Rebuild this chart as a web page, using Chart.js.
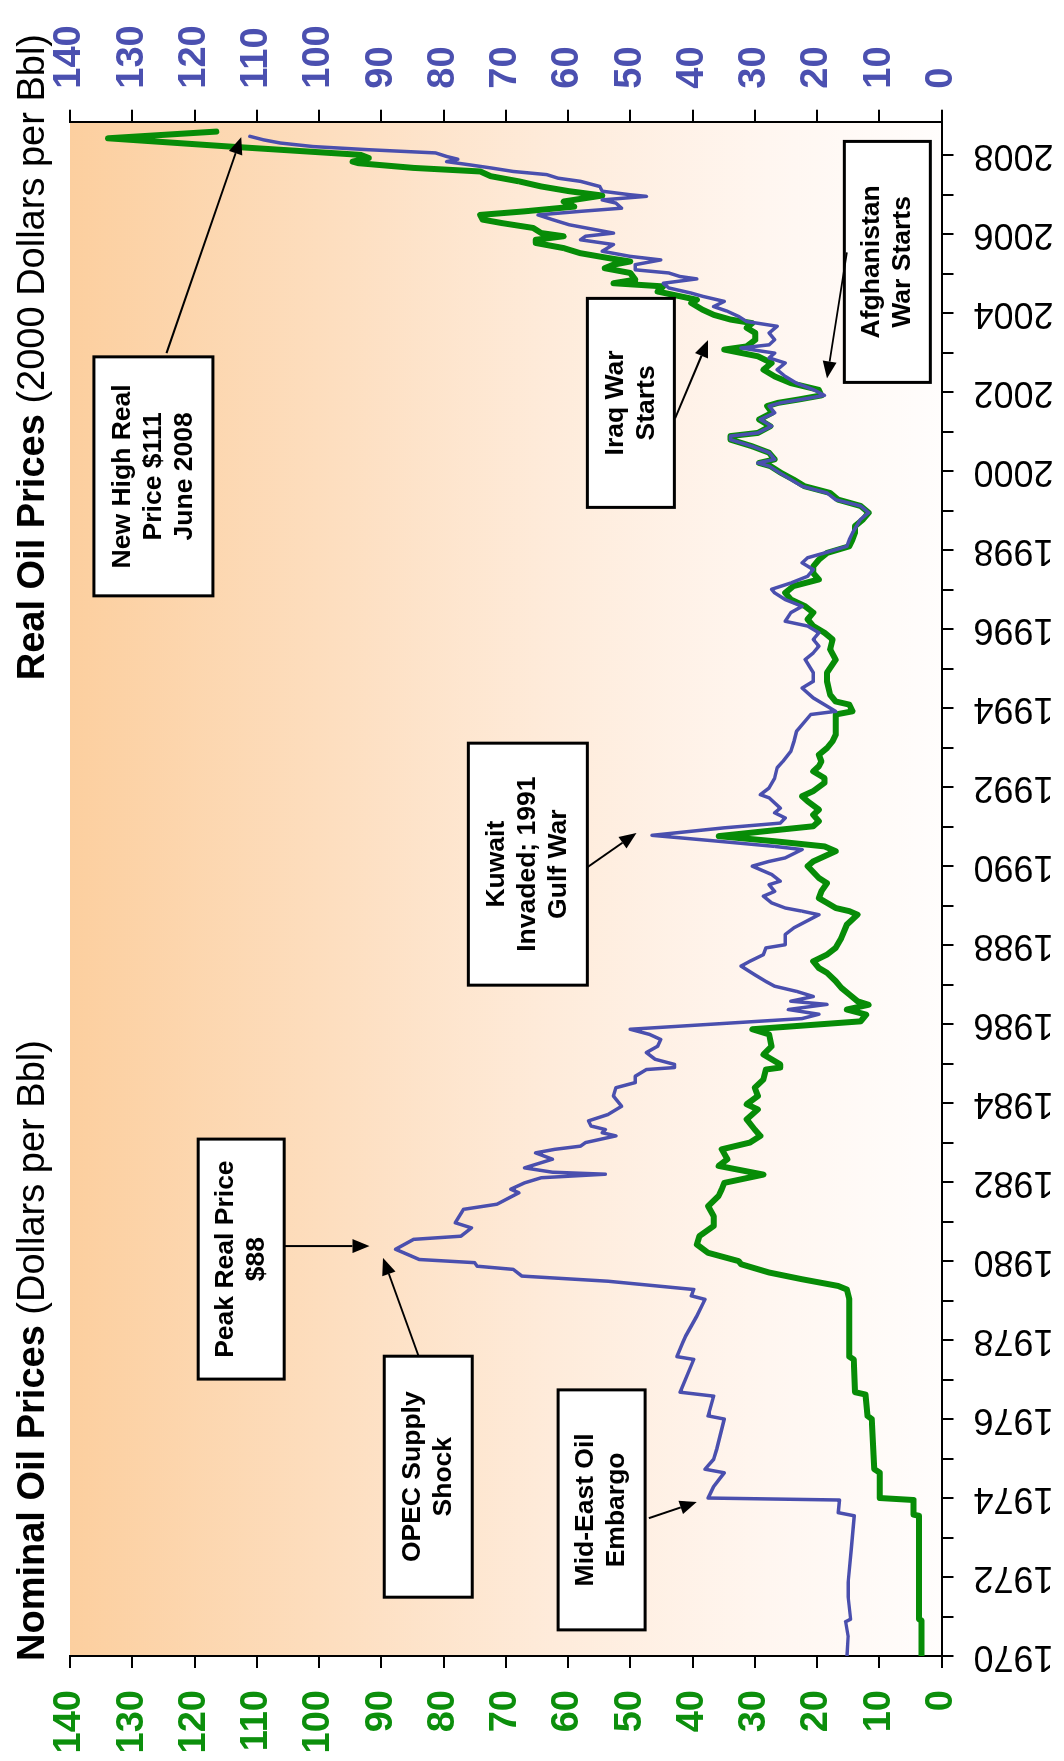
<!DOCTYPE html>
<html>
<head>
<meta charset="utf-8">
<title>Nominal and Real Oil Prices 1970-2008</title>
<script src="https://cdn.jsdelivr.net/npm/chart.js@4/dist/chart.umd.min.js"></script>
<style>
  html, body { margin: 0; padding: 0; background: #ffffff; width: 1064px; height: 1761px; overflow: hidden; }
  /* the chart is laid out landscape and turned a quarter turn so time runs upward */
  #wrap { position: absolute; left: 0; top: 0; width: 1761px; height: 1064px;
          transform-origin: 0 0; transform: translate(0, 1761px) rotate(-90deg); }
  canvas { display: block; }
</style>
</head>
<body>
<div id="wrap"><canvas id="chart" width="1761" height="1064"></canvas></div>
<script>
// Real oil price, 2000 dollars per barrel (decimal year, value)
const realYears = [
  1970.00, 1970.50, 1970.87, 1970.93, 1971.50, 1971.86, 1972.70, 1973.55, 1973.63, 1973.95,
  1974.00, 1974.29, 1974.64, 1974.73, 1974.98, 1975.24, 1976.00, 1976.08, 1976.58, 1976.68,
  1977.51, 1977.58, 1977.93, 1978.10, 1978.61, 1979.03, 1979.12, 1979.28, 1979.49, 1979.62,
  1979.79, 1979.87, 1979.96, 1980.04, 1980.30, 1980.55, 1980.63, 1980.84, 1980.97, 1981.31,
  1981.44, 1981.73, 1981.82, 1981.98, 1982.11, 1982.20, 1982.25, 1982.36, 1982.58, 1982.74,
  1982.83, 1982.91, 1983.00, 1983.17, 1983.25, 1983.33, 1983.42, 1983.55, 1983.71, 1983.92,
  1984.18, 1984.39, 1984.52, 1984.68, 1984.85, 1984.90, 1984.98, 1985.11, 1985.28, 1985.44,
  1985.61, 1985.74, 1985.87, 1986.14, 1986.25, 1986.37, 1986.50, 1986.58, 1986.70, 1986.83,
  1986.96, 1987.08, 1987.25, 1987.47, 1987.59, 1987.76, 1987.93, 1988.01, 1988.27, 1988.44,
  1988.77, 1988.86, 1988.94, 1989.07, 1989.24, 1989.36, 1989.53, 1989.62, 1989.79, 1990.00,
  1990.12, 1990.21, 1990.42, 1990.50, 1990.63, 1990.78, 1990.97, 1991.09, 1991.22, 1991.35,
  1991.47, 1991.73, 1991.81, 1991.98, 1992.23, 1992.49, 1992.65, 1992.91, 1993.16, 1993.41,
  1993.84, 1993.92, 1994.26, 1994.51, 1994.68, 1994.90, 1995.23, 1995.40, 1995.57, 1995.74,
  1995.91, 1996.08, 1996.20, 1996.42, 1996.58, 1996.75, 1996.92, 1997.01, 1997.17, 1997.34,
  1997.51, 1997.68, 1997.81, 1997.93, 1998.10, 1998.27, 1998.44, 1998.78, 1998.95, 1999.12,
  1999.28, 1999.45, 1999.62, 1999.79, 1999.96, 2000.13, 2000.21, 2000.30, 2000.47, 2000.63,
  2000.80, 2000.89, 2000.97, 2001.14, 2001.31, 2001.48, 2001.65, 2001.73, 2001.82, 2001.92,
  2002.06, 2002.23, 2002.40, 2002.57, 2002.74, 2002.87, 2002.99, 2003.12, 2003.20, 2003.33,
  2003.50, 2003.67, 2003.79, 2003.92, 2004.05, 2004.17, 2004.30, 2004.43, 2004.51, 2004.64,
  2004.76, 2004.87, 2004.93, 2005.02, 2005.10, 2005.23, 2005.35, 2005.44, 2005.57, 2005.74,
  2005.86, 2005.95, 2006.03, 2006.11, 2006.24, 2006.37, 2006.49, 2006.58, 2006.66, 2006.79,
  2006.87, 2006.96, 2007.00, 2007.09, 2007.21, 2007.34, 2007.42, 2007.51, 2007.59, 2007.68,
  2007.76, 2007.84, 2007.90, 2007.97, 2008.06, 2008.14, 2008.22, 2008.31, 2008.39, 2008.48
];
const realPrices = [
  15.2, 15.0, 15.4, 14.6, 15.0, 15.0, 14.5, 14.0, 16.6, 16.4,
  37.5, 36.6, 34.9, 38.0, 36.6, 36.1, 34.9, 37.5, 36.6, 42.0,
  39.8, 42.5, 41.6, 41.1, 39.3, 38.0, 40.2, 39.8, 53.6, 67.4,
  68.8, 74.6, 75.0, 83.9, 87.7, 84.8, 77.2, 75.5, 78.1, 76.8,
  71.4, 67.9, 69.2, 67.0, 64.3, 54.0, 62.5, 67.0, 62.5, 65.2,
  62.1, 58.0, 57.2, 52.3, 54.5, 54.0, 56.3, 56.7, 53.6, 51.4,
  52.7, 52.3, 49.2, 49.2, 47.4, 42.9, 42.9, 46.0, 47.4, 45.6,
  45.1, 46.9, 50.0, 22.4, 19.7, 24.6, 18.4, 24.2, 20.6, 23.3,
  26.8, 28.2, 30.0, 32.2, 30.8, 28.6, 28.2, 25.1, 25.1, 23.7,
  19.7, 22.4, 25.1, 27.3, 28.6, 26.8, 27.7, 25.9, 27.3, 30.4,
  27.7, 25.1, 22.4, 26.8, 35.8, 46.5, 34.9, 25.9, 25.1, 26.8,
  25.9, 27.7, 29.1, 27.7, 26.8, 26.4, 25.5, 24.2, 23.7, 23.3,
  21.0, 17.0, 20.6, 22.4, 20.6, 20.6, 21.9, 20.6, 19.7, 20.6,
  19.7, 21.5, 25.1, 24.2, 22.4, 25.1, 26.8, 27.3, 24.2, 21.5,
  20.6, 22.4, 21.5, 18.8, 15.2, 14.8, 14.3, 13.0, 11.7, 13.0,
  17.0, 18.4, 22.4, 24.2, 26.0, 27.7, 29.5, 26.8, 27.7, 30.4,
  33.9, 33.9, 29.5, 27.3, 29.1, 26.8, 27.7, 25.9, 22.4, 18.8,
  20.5, 23.3, 25.1, 26.4, 25.1, 27.7, 26.8, 32.2, 27.7, 26.8,
  27.7, 26.4, 31.3, 32.6, 34.4, 36.6, 34.9, 38.4, 40.2, 43.8,
  44.7, 39.3, 42.0, 43.8, 49.2, 49.2, 45.1, 50.0, 54.5, 52.7,
  58.0, 57.2, 52.7, 55.4, 59.8, 62.5, 64.8, 58.0, 51.4, 52.3,
  54.5, 47.4, 50.0, 54.5, 54.9, 58.0, 61.6, 63.4, 68.8, 72.4,
  75.9, 79.5, 77.7, 79.5, 81.3, 92.0, 100.9, 106.2, 108.9, 111.1
];

// Nominal oil price, dollars per barrel (decimal year, value)
const nominalYears = [
  1970.00, 1970.90, 1970.93, 1973.55, 1973.58, 1973.95, 1974.00, 1974.64, 1974.73, 1976.00,
  1976.08, 1976.62, 1976.68, 1977.51, 1977.58, 1979.03, 1979.28, 1979.37, 1979.54, 1979.71,
  1979.92, 1980.00, 1980.21, 1980.42, 1980.63, 1980.89, 1981.14, 1981.39, 1981.65, 1981.82,
  1981.98, 1982.19, 1982.41, 1982.58, 1982.83, 1983.00, 1983.17, 1983.33, 1983.59, 1983.84,
  1983.97, 1984.18, 1984.39, 1984.60, 1984.85, 1984.90, 1984.98, 1985.23, 1985.44, 1985.74,
  1985.87, 1986.07, 1986.24, 1986.37, 1986.49, 1986.58, 1986.75, 1986.92, 1987.09, 1987.30,
  1987.42, 1987.59, 1987.76, 1987.93, 1988.18, 1988.52, 1988.77, 1988.86, 1988.94, 1989.07,
  1989.19, 1989.36, 1989.57, 1989.70, 1990.00, 1990.12, 1990.38, 1990.50, 1990.63, 1990.76,
  1990.88, 1991.01, 1991.14, 1991.30, 1991.43, 1991.64, 1991.77, 1991.90, 1992.11, 1992.23,
  1992.40, 1992.53, 1992.65, 1992.82, 1992.99, 1993.16, 1993.33, 1993.84, 1993.92, 1994.09,
  1994.17, 1994.34, 1994.68, 1994.90, 1995.23, 1995.49, 1995.74, 1995.91, 1996.08, 1996.25,
  1996.42, 1996.58, 1996.75, 1996.92, 1997.09, 1997.26, 1997.42, 1997.59, 1997.76, 1997.93,
  1998.10, 1998.27, 1998.44, 1998.61, 1998.78, 1998.95, 1999.12, 1999.28, 1999.45, 1999.62,
  1999.79, 1999.96, 2000.13, 2000.21, 2000.30, 2000.47, 2000.63, 2000.80, 2000.89, 2000.97,
  2001.14, 2001.31, 2001.48, 2001.65, 2001.73, 2001.82, 2001.92, 2002.06, 2002.23, 2002.40,
  2002.57, 2002.74, 2002.91, 2003.08, 2003.16, 2003.33, 2003.50, 2003.63, 2003.75, 2003.84,
  2003.96, 2004.09, 2004.26, 2004.34, 2004.43, 2004.55, 2004.68, 2004.76, 2004.85, 2005.02,
  2005.14, 2005.23, 2005.31, 2005.40, 2005.52, 2005.65, 2005.78, 2005.86, 2005.95, 2006.03,
  2006.16, 2006.28, 2006.37, 2006.49, 2006.58, 2006.70, 2006.83, 2006.98, 2007.09, 2007.21,
  2007.34, 2007.47, 2007.59, 2007.68, 2007.80, 2007.84, 2007.93, 2008.01, 2008.22, 2008.43,
  2008.60
];
const nominalPrices = [
  3.2, 3.2, 3.6, 3.6, 4.5, 4.5, 9.9, 9.9, 10.8, 11.2,
  11.9, 12.2, 13.9, 14.1, 14.8, 14.8, 15.2, 16.6, 22.4, 27.7,
  32.2, 32.6, 37.5, 39.3, 38.9, 36.6, 36.6, 37.5, 35.8, 35.3,
  34.9, 28.6, 35.8, 34.4, 35.3, 30.8, 29.1, 30.0, 31.3, 29.5,
  31.3, 29.5, 30.0, 28.6, 28.2, 25.9, 25.9, 28.6, 27.3, 27.7,
  30.4, 13.0, 12.1, 15.2, 11.7, 13.5, 14.8, 16.1, 17.0, 18.4,
  19.7, 20.6, 18.4, 17.0, 16.1, 15.2, 13.5, 14.8, 17.0, 18.4,
  19.7, 19.3, 18.4, 19.7, 21.5, 20.6, 17.0, 18.8, 26.8, 35.8,
  28.6, 20.6, 19.7, 20.6, 19.7, 21.5, 22.4, 20.6, 18.8, 18.8,
  20.6, 19.7, 19.3, 19.7, 18.4, 17.5, 17.0, 17.0, 14.3, 14.8,
  17.0, 17.9, 18.4, 18.4, 17.0, 17.9, 17.5, 18.8, 20.6, 21.5,
  20.6, 21.9, 24.2, 25.1, 23.8, 19.7, 20.6, 20.6, 19.7, 18.4,
  14.8, 14.3, 13.9, 13.9, 12.6, 11.7, 13.0, 16.6, 17.9, 22.0,
  23.8, 25.8, 27.5, 29.3, 26.8, 27.7, 30.4, 33.9, 33.9, 29.5,
  27.5, 29.3, 27.2, 28.0, 26.3, 22.8, 19.3, 19.7, 24.2, 26.8,
  28.6, 27.3, 29.5, 34.9, 31.3, 29.9, 29.9, 31.3, 30.4, 33.9,
  36.6, 38.4, 40.2, 39.3, 42.0, 45.6, 44.7, 52.7, 49.2, 50.0,
  54.1, 52.7, 50.0, 53.6, 58.0, 60.7, 65.2, 65.2, 60.7, 64.3,
  65.6, 70.5, 73.7, 74.1, 67.0, 59.0, 60.7, 54.5, 59.8, 64.3,
  67.9, 72.4, 74.1, 84.8, 93.7, 94.6, 92.0, 93.3, 114.3, 133.9,
  116.5
];

// Axis ranges
const yearMin = 1970;
const yearMax = 2008.85;
const priceMin = 0;
const priceMax = 140;
const priceStep = 10;

// Event call-outs: text lines, box centre (year, price), arrow tail and head (year, price)
const noteLines = [
  ['New High Real', 'Price $111', 'June 2008'],
  ['Peak Real Price', '$88'],
  ['OPEC Supply', 'Shock'],
  ['Mid-East Oil', 'Embargo'],
  ['Kuwait', 'Invaded; 1991', 'Gulf War'],
  ['Iraq War', 'Starts'],
  ['Afghanistan', 'War Starts']
];
const noteCentres = [[1999.87, 126.6], [1980.05, 112.5], [1974.54, 82.45], [1973.70, 54.6],
                     [1990.05, 66.45], [2001.73, 49.9], [2005.30, 8.7]];
const noteArrowFrom = [[2002.99, 124.5], [1980.38, 105.6], [1977.59, 84.0], [1973.49, 47.0],
                       [1989.97, 56.9], [2001.34, 42.8], [2005.54, 15.2]];
const noteArrowTo = [[2008.46, 112.5], [1980.38, 91.9], [1980.08, 89.7], [1973.90, 39.3],
                     [1990.84, 49.0], [2003.32, 37.5], [2002.35, 18.4]];

const FONT = "'Liberation Sans', Arial, Helvetica, sans-serif";
const GREEN = '#078c07';
const BLUE = '#4a4fae';

// Box sizes in pixels
const boxSizes = [[239, 119], [240, 86], [241, 88], [240, 87], [242, 119], [209, 87], [241, 86]];

const plotBackground = {
  id: 'plotBackground',
  beforeDraw(chart) {
    const { ctx, chartArea: a } = chart;
    const g = ctx.createLinearGradient(0, a.top, 0, a.bottom);
    g.addColorStop(0.00, '#fccf9f');
    g.addColorStop(0.30, '#fddebf');
    g.addColorStop(0.55, '#feebda');
    g.addColorStop(0.80, '#fff6f0');
    g.addColorStop(1.00, '#fffdfc');
    ctx.save();
    ctx.fillStyle = g;
    ctx.fillRect(a.left, a.top, a.right - a.left, a.bottom - a.top);
    ctx.restore();
  }
};

function drawArrow(ctx, x1, y1, x2, y2) {
  const ang = Math.atan2(y2 - y1, x2 - x1);
  const len = 17, half = 7;
  const bx = x2 - len * Math.cos(ang), by = y2 - len * Math.sin(ang);
  ctx.beginPath();
  ctx.moveTo(x1, y1);
  ctx.lineTo(bx, by);
  ctx.lineWidth = 2;
  ctx.strokeStyle = '#000';
  ctx.stroke();
  ctx.beginPath();
  ctx.moveTo(x2, y2);
  ctx.lineTo(bx + half * Math.sin(ang), by - half * Math.cos(ang));
  ctx.lineTo(bx - half * Math.sin(ang), by + half * Math.cos(ang));
  ctx.closePath();
  ctx.fillStyle = '#000';
  ctx.fill();
}

const callouts = {
  id: 'callouts',
  afterDraw(chart) {
    const { ctx } = chart;
    const xs = chart.scales.x, ys = chart.scales.yNom;
    ctx.save();
    noteLines.forEach((lines, i) => {
      const cx = xs.getPixelForValue(noteCentres[i][0]);
      const cy = ys.getPixelForValue(noteCentres[i][1]);
      const [w, h] = boxSizes[i];
      ctx.fillStyle = '#ffffff';
      ctx.fillRect(cx - w / 2, cy - h / 2, w, h);
      ctx.lineWidth = 3;
      ctx.strokeStyle = '#000';
      ctx.strokeRect(cx - w / 2, cy - h / 2, w, h);
      ctx.fillStyle = '#000';
      ctx.font = 'bold 26.5px ' + FONT;
      ctx.textAlign = 'center';
      ctx.textBaseline = 'middle';
      const lh = 31;
      lines.forEach((t, k) => {
        ctx.fillText(t, cx, cy + (k - (lines.length - 1) / 2) * lh);
      });
      drawArrow(ctx,
        xs.getPixelForValue(noteArrowFrom[i][0]), ys.getPixelForValue(noteArrowFrom[i][1]),
        xs.getPixelForValue(noteArrowTo[i][0]), ys.getPixelForValue(noteArrowTo[i][1]));
    });
    ctx.restore();
  }
};

function drawTitle(ctx, x, y, bold, normal, align) {
  const size = 38;
  ctx.font = 'bold ' + size + 'px ' + FONT;
  const wb = ctx.measureText(bold).width;
  ctx.font = size + 'px ' + FONT;
  const wn = ctx.measureText(normal).width;
  const x0 = align === 'right' ? x - wb - wn : x;
  ctx.fillStyle = '#000';
  ctx.textAlign = 'left';
  ctx.textBaseline = 'alphabetic';
  ctx.font = 'bold ' + size + 'px ' + FONT;
  ctx.fillText(bold, x0, y);
  ctx.font = size + 'px ' + FONT;
  ctx.fillText(normal, x0 + wb, y);
}

const axisTitles = {
  id: 'axisTitles',
  afterDraw(chart) {
    const { ctx } = chart;
    ctx.save();
    drawTitle(ctx, 100, 44, 'Nominal Oil Prices', ' (Dollars per Bbl)', 'left');
    drawTitle(ctx, 1727, 44, 'Real Oil Prices', ' (2000 Dollars per Bbl)', 'right');
    ctx.restore();
  }
};

const axisLine = { color: '#000', width: 2 };
const tickGrid = { drawOnChartArea: false, drawTicks: true, tickLength: 12, color: '#000', lineWidth: 2 };

new Chart(document.getElementById('chart'), {
  type: 'line',
  data: {
    datasets: [
      {
        label: 'Real Oil Prices',
        data: realYears.map((x, i) => ({ x, y: realPrices[i] })),
        borderColor: BLUE, borderWidth: 3.5, pointRadius: 0, tension: 0,
        borderJoinStyle: 'round', borderCapStyle: 'round',
        yAxisID: 'yReal', order: 0
      },
      {
        label: 'Nominal Oil Prices',
        data: nominalYears.map((x, i) => ({ x, y: nominalPrices[i] })),
        borderColor: GREEN, borderWidth: 6, pointRadius: 0, tension: 0,
        borderJoinStyle: 'round', borderCapStyle: 'round',
        yAxisID: 'yNom', order: 1
      }
    ]
  },
  options: {
    responsive: false,
    animation: false,
    devicePixelRatio: 1,
    layout: { padding: { top: 70, left: 0, right: 0, bottom: 0 } },
    plugins: { legend: { display: false }, tooltip: { enabled: false }, title: { display: false } },
    scales: {
      x: {
        type: 'linear', position: 'bottom', min: yearMin, max: yearMax,
        ticks: {
          stepSize: 1, autoSkip: false, includeBounds: false,
          minRotation: 90, maxRotation: 90, padding: 20,
          color: '#000', font: { family: FONT, size: 36 },
          callback: v => (v % 2 === 0 ? String(v) : '')
        },
        grid: tickGrid, border: axisLine,
        afterFit(s) { s.height = 122.5; }
      },
      yNom: {
        type: 'linear', position: 'left', min: priceMin, max: priceMax,
        ticks: { stepSize: priceStep, padding: 22, color: '#0c8f0c',
                 font: { family: FONT, size: 38, weight: 'bold' } },
        grid: tickGrid, border: axisLine,
        afterFit(s) { s.width = 105; }
      },
      yReal: {
        type: 'linear', position: 'right', min: priceMin, max: priceMax,
        ticks: { stepSize: priceStep, padding: 21, color: '#4b50b0',
                 font: { family: FONT, size: 38, weight: 'bold' } },
        grid: tickGrid, border: axisLine,
        afterFit(s) { s.width = 121.7; }
      }
    }
  },
  plugins: [plotBackground, callouts, axisTitles]
});
</script>
</body>
</html>
